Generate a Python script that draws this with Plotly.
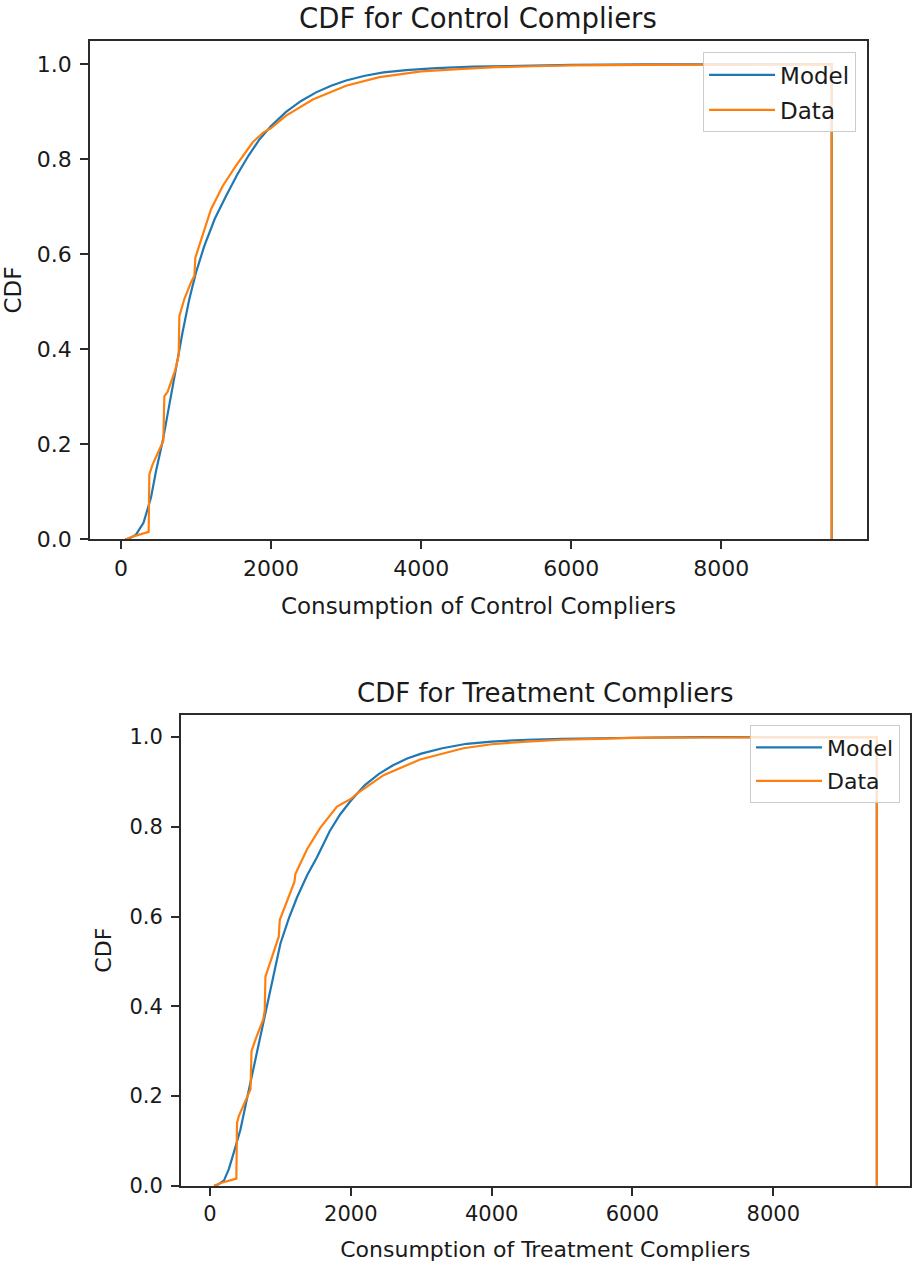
import plotly.graph_objects as go

# ---------------- data ----------------
X_MIN = 57      # first bin edge
X_MAX = 9470    # last bin edge (where the step outline drops back to 0)

ctrl_model_x = [57, 100, 200, 300, 400, 467, 556, 644, 733, 822, 911, 1000, 1111, 1250, 1400,
                1550, 1700, 1850, 2000, 2200, 2400, 2600, 2800, 3000, 3250, 3500, 3800, 4200,
                4700, 5300, 6000, 7000]
ctrl_model_y = [0.0, 0.001, 0.01, 0.035, 0.088, 0.144, 0.207, 0.284, 0.36, 0.437, 0.506, 0.562,
                0.618, 0.675, 0.723, 0.768, 0.808, 0.843, 0.870, 0.900, 0.923, 0.941, 0.955,
                0.966, 0.976, 0.983, 0.988, 0.992, 0.995, 0.997, 0.999, 1.0]

ctrl_data_x = [57, 155, 369, 378, 422, 511, 564, 578, 622, 724, 769, 778, 844, 933, 978, 991,
               1044, 1089, 1178, 1200, 1356, 1533, 1756, 1900, 2000, 2200, 2556, 3000, 3444,
               4000, 4500, 5000, 5500, 6000, 7000, 8000]
ctrl_data_y = [0.0, 0.006, 0.016, 0.137, 0.158, 0.19, 0.207, 0.301, 0.311, 0.357, 0.388, 0.47,
               0.506, 0.541, 0.555, 0.593, 0.618, 0.639, 0.681, 0.695, 0.744, 0.787, 0.836,
               0.857, 0.866, 0.892, 0.926, 0.955, 0.973, 0.985, 0.990, 0.994, 0.996, 0.998,
               0.999, 1.0]

treat_model_x = [57, 100, 200, 269, 350, 434, 520, 623, 720, 812, 905, 1001, 1120, 1237, 1380,
                 1520, 1700, 1850, 2000, 2200, 2400, 2600, 2800, 3000, 3300, 3645, 4000, 4500,
                 5000, 5600, 6300, 7000]
treat_model_y = [0.0, 0.001, 0.012, 0.0375, 0.08, 0.126, 0.19, 0.266, 0.34, 0.406, 0.475, 0.54,
                 0.596, 0.643, 0.692, 0.732, 0.79, 0.828, 0.858, 0.893, 0.918, 0.937, 0.952,
                 0.963, 0.975, 0.985, 0.990, 0.994, 0.996, 0.998, 0.999, 1.0]

treat_data_x = [57, 155, 375, 384, 411, 529, 576, 590, 647, 755, 778, 788, 883, 977, 991, 1095,
                1199, 1214, 1379, 1568, 1804, 2000, 2087, 2465, 2984, 3598, 4000, 4500, 5000,
                5500, 6000, 7000, 8000]
treat_data_y = [0.0, 0.006, 0.016, 0.140, 0.156, 0.20, 0.215, 0.30, 0.326, 0.37, 0.39, 0.466,
                0.51, 0.555, 0.592, 0.636, 0.677, 0.695, 0.75, 0.798, 0.845, 0.862, 0.874, 0.915,
                0.950, 0.975, 0.984, 0.990, 0.994, 0.996, 0.998, 0.999, 1.0]

x_ticks = [0, 2000, 4000, 6000, 8000]
y_ticks = [0.0, 0.2, 0.4, 0.6, 0.8, 1.0]

BLUE = "#1f77b4"
ORANGE = "#ff7f0e"
FONT = "DejaVu Sans"

W, H = 912, 1270


def outline(xs, ys):
    # cumulative step-histogram outline: ends with a drop at the last bin edge
    return list(xs) + [X_MAX, X_MAX], list(ys) + [1.0, 0.0]


fig = go.Figure()

panels = [
    dict(ax="", mx=ctrl_model_x, my=ctrl_model_y, dx=ctrl_data_x, dy=ctrl_data_y, leg="legend"),
    dict(ax="2", mx=treat_model_x, my=treat_model_y, dx=treat_data_x, dy=treat_data_y, leg="legend2"),
]
for p in panels:
    mx, my = outline(p["mx"], p["my"])
    dx, dy = outline(p["dx"], p["dy"])
    fig.add_trace(go.Scatter(x=mx, y=my, mode="lines", name="Model", legendgroup="m" + p["ax"],
                             line=dict(color=BLUE, width=2.2),
                             xaxis="x" + p["ax"], yaxis="y" + p["ax"], legend=p["leg"]))
    fig.add_trace(go.Scatter(x=dx, y=dy, mode="lines", name="Data", legendgroup="d" + p["ax"],
                             line=dict(color=ORANGE, width=2.2),
                             xaxis="x" + p["ax"], yaxis="y" + p["ax"], legend=p["leg"]))

# pixel boxes of the two plot areas
top = dict(l=90, r=868, t=41, b=545, fs=22, xfs=23, tfs=27.5)
bot = dict(l=181, r=911, t=722, b=1198, fs=21, xfs=22, tfs=26)


def xdom(b):
    return [b["l"] / W, b["r"] / W]


def ydom(b):
    return [1 - b["b"] / H, 1 - b["t"] / H]


def axis_style(fs, tfs, title, standoff):
    return dict(
        showline=True, mirror=True, linecolor="#2b2b2b", linewidth=1.6,
        ticks="outside", ticklen=8, tickwidth=1.6, tickcolor="#2b2b2b",
        showgrid=False, zeroline=False,
        tickfont=dict(family=FONT, size=fs, color="#1a1a1a"),
        title=dict(text=title, font=dict(family=FONT, size=tfs, color="#1a1a1a"), standoff=standoff),
        automargin=True,
    )


X_RANGE = [-414, 9941]
Y_RANGE = [0, 1.05]


def legend_style(right, topy, fs):
    return dict(x=right / W, xanchor="right", y=1 - topy / H, yanchor="top",
                bgcolor="rgba(255,255,255,0.8)", bordercolor="#cccccc", borderwidth=1,
                font=dict(family=FONT, size=fs, color="#1a1a1a"), itemwidth=66,
                tracegroupgap=2)


fig.update_layout(
    width=W, height=H,
    margin=dict(l=0, r=0, t=0, b=0),
    paper_bgcolor="white", plot_bgcolor="white",
    font=dict(family=FONT, color="#1a1a1a"),
    xaxis=dict(domain=xdom(top), range=X_RANGE, tickvals=x_ticks, anchor="y",
               **axis_style(top["fs"], top["xfs"], "Consumption of Control Compliers", 18)),
    yaxis=dict(domain=ydom(top), range=Y_RANGE, tickvals=y_ticks, tickformat=".1f", anchor="x",
               ticklabelstandoff=4,
               **axis_style(top["fs"], top["xfs"], "CDF", 12)),
    xaxis2=dict(domain=xdom(bot), range=X_RANGE, tickvals=x_ticks, anchor="y2",
                **axis_style(bot["fs"], bot["xfs"], "Consumption of Treatment Compliers", 17)),
    yaxis2=dict(domain=ydom(bot), range=Y_RANGE, tickvals=y_ticks, tickformat=".1f", anchor="x2",
                ticklabelstandoff=4,
                **axis_style(bot["fs"], bot["xfs"], "CDF", 12)),
    legend=legend_style(857, 53, top["xfs"]),
    legend2=legend_style(901, 733, bot["xfs"]),
    annotations=[
        dict(text="CDF for Control Compliers", xref="paper", yref="paper",
             x=(top["l"] + top["r"]) / 2 / W, y=1 - (top["t"] - 5) / H,
             xanchor="center", yanchor="bottom", showarrow=False,
             font=dict(family=FONT, size=top["tfs"], color="#1a1a1a")),
        dict(text="CDF for Treatment Compliers", xref="paper", yref="paper",
             x=(bot["l"] + bot["r"]) / 2 / W, y=1 - (bot["t"] - 5) / H,
             xanchor="center", yanchor="bottom", showarrow=False,
             font=dict(family=FONT, size=bot["tfs"], color="#1a1a1a")),
    ],
)

fig.write_html("out.html")
